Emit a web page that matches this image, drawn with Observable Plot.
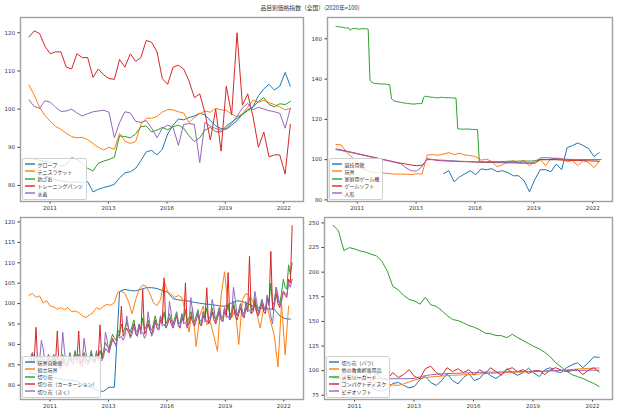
<!DOCTYPE html>
<html><head><meta charset="utf-8">
<script src="https://cdn.jsdelivr.net/npm/d3@7"></script>
<script src="https://cdn.jsdelivr.net/npm/@observablehq/plot@0.6"></script>
<style>
body{margin:0;background:#fff;}
#fig{position:relative;width:620px;height:413px;background:#fff;overflow:hidden;font-family:"Noto Sans CJK JP","DejaVu Sans",sans-serif}
.title{position:absolute;top:3px;left:0;width:620px;text-align:center;font-size:5.8px;color:#333}
.panel{position:absolute}
.legend{position:absolute;background:rgba(255,255,255,0.8);border:0.8px solid #d0d0d0;border-radius:2px;padding:1.5px 3px 1.5px 2px;font-size:5px;line-height:7.3px;color:#333}
.legend .item{display:flex;align-items:center;white-space:nowrap;height:7.3px}
.legend svg{margin-right:3px;flex:none}
</style></head><body><div id="fig"><div class="title">品目別価格指数（全国）(2020年=100)</div></div>
<script>
// ---------- tick labels / scales ----------
const tickDays = [15000, 16000, 17000, 18000, 19000];   // x tick positions (days since 1970)
const tickLabels = ["2011", "2013", "2016", "2019", "2022"];
const yTicksTL = [80, 90, 100, 110, 120];
const yTicksTR = [80, 100, 120, 140, 160];
const yTicksBL = [80, 85, 90, 95, 100, 105, 110, 115, 120];
const yTicksBR = [75, 100, 125, 150, 175, 200, 225, 250];
const tab10 = ["#1f77b4", "#ff7f0e", "#2ca02c", "#d62728", "#9467bd"];

// ---------- series names ----------
const namesTL = ["グローブ", "テニスラケット", "釣ざお", "トレーニングパンツ", "水着"];
const namesTR = ["競技用靴", "玩具", "家庭用ゲーム機", "ゲームソフト", "人形"];
const namesBL = ["玩具自動車", "組立玩具", "切り花", "切り花（カーネーション）", "切り花（きく）"];
const namesBR = ["切り花（バラ）", "他の教養娯楽用品", "メモリーカード", "コンパクトディスク", "ビデオソフト"];

// ---------- values (first month = 2010-01; step in months given with each) ----------
// Top-left, every 3 months from 2010-01
const glove = [84,83.5,83,82.5,82,81.5,81.2,81,80.8,81,80.7,81,78.3,79,79.5,79.8,80.3,82,83.3,83.6,84.5,86.5,88.8,89.2,88,89.5,93.5,95.8,97.4,97.2,97.8,98.2,98.9,98.5,97,95.6,94.9,94.7,95.8,97,98.6,99.8,100.6,103.5,105.3,106.5,105,106,109.6,106];
const tennisRacket = [106.3,103.7,100.5,98.3,96.8,95.5,94.7,93.7,92.8,92.5,92.6,92,91,90,89.3,90,89.5,93.6,91.6,91,91.5,96,97.6,97.6,98.1,99.2,99.9,99.8,99.3,99,96.5,97.8,98.8,99.5,99.2,100.2,99.8,99.7,98.7,98,98.8,100.5,102.4,101.8,102.3,101.7,101.2,100.6,99.8,100.2];
const fishingRod = [87.1,87,86.6,86.3,86,85.8,85,85.5,87.3,86.8,85.8,84.5,83.8,85.8,86.4,86.8,87.4,93,92.8,92.5,93.5,95.4,95.6,94,94.5,95.2,94.6,95.4,95.8,95,93,91.5,92.5,94.5,95.2,94.1,94,95.6,96.6,97.6,98.6,99.6,100.5,102,103,101.2,100.6,101.4,101.2,102];
const trainingPants = [118.9,120.5,119.8,116.5,114.5,115,115,111,110.5,114.5,113.5,113.5,108.3,110.5,109,108,107.8,113,111,114.5,112.5,113.5,118,117.5,115,108,106.5,111,111.5,110.5,107.4,103,104,99,91.9,100,89,106,98.5,120,101,104,98,90,94,87.5,88,88,83,96];
const swimsuit = [102.4,100.7,100.2,102.2,101.8,100.5,99.4,99.5,100,99,98.2,98.8,99.3,99.5,99.7,99.2,92.5,96.5,99.3,99,96.8,96.5,97,95,92.5,95,95.8,95.2,90.5,96,96.2,96,86,96.5,95.5,94.9,94.5,95,96.3,98.2,100.3,101.5,99.8,100.5,100,99.6,99.3,98.9,95,100.2];

// Top-right
const sportsShoes = [93,94.5,89,91.4,93,94.5,92.5,95.4,95,95.5,94,94.5,93.5,92,92,89.5,84,90,95,95,94,97.8,95,106,107,108.3,107,105.5,101.5,103.5]; // every 3 months from 2015-01
const toys = [107.5,107.3,103.6,101.2,97.8,95.4,94.2,93.8,93.5,93.3,93,92.8,92.8,92.8,92.6,93,92.8,102.3,102.5,102.2,102.8,103.5,102.5,103.2,102.3,102,101.5,99.7,100.3,99,96.5,97.5,98.8,99.5,98.5,99.8,96.8,99.5,100.2,97,100.5,100.8,100.5,99,99.5,97,99.5,98.5,96,99];
const gameConsole = [ // monthly from 2010-01
166.2,166,166,165.8,165.7,165.5,165.3,165.5,164.2,165.2,165,165.2,165,164.8,165,165,165,165,164.8,
139.3,138.5,138,137.8,137.8,137.6,137.6,137.6,137.5,137.5,137.3,137.2,
130.2,129.4,129,128.8,128.6,128.5,128.3,128.2,128,127.9,127.8,127.7,127.6,127.6,127.8,127.8,127.8,127.9,
131,131.5,131.3,131.2,131,131,130.8,130.8,130.6,130.8,131,130.8,130.8,130.7,130.8,130.7,130.6,130.6,130.6,
115.3,115.2,115.2,115.1,115.2,115.2,115.2,115.1,115,115,115,115,
99,98.8,98.8,98.8,98.9,98.9,99,99,99,99,99,99,99.1,99.1,99.1,99.1,99.2,99.2,99.2,99.2,99.2,99.2,99.3,99.3,99.3,99.3,99.3,99.3,99.3,99.3,99.4,99.4,99.4,99.4,
100,100,100,100,100,100,100,100,100,100,100,100,100,100,100,100,100,100,100,100,100,100,100,100,100,100,100,100,100,100,100,100,100,100,100];
const gameSoftware = [105.3,104.8,104.2,103.6,103,102.4,101.8,101.2,100.6,100,99.4,98.8,98.3,97.8,97.3,97,97.2,100,100,99.6,99.4,99.3,99.2,99,99,98.9,98.8,98.7,98.6,98.6,98.5,98.5,98.4,98.4,98.3,98.3,98.2,98.2,100,100,100,100,99.8,99.7,99.6,99.6,99.5,99.4,99.3,99.2];
const dolls = [105,104.5,104,103.4,102.8,102.2,101.6,101,100.4,99.8,99.2,98.6,98,96,94.5,94.3,96.5,100.5,100,99.8,99.7,99.5,99.4,99.2,99.1,99,98.9,98.9,98.8,98.8,98.7,98.7,98.6,98.6,98.5,98.4,98.4,98.4,100.8,101,100.8,100.5,100.3,100.2,100.1,100,100,100,100,100];

// Bottom-left
const toyCars = [83,82.8,82.5,82.3,82,81.8,81.5,81.3,81.2,81,80.3,79.8,79.3,78.6,78.5,79.5,79.5,103,103.5,103.2,103.1,103.5,103.9,103.9,103.7,103.2,102.8,101.2,100.9,100.8,100.6,100.3,100.1,99.9,99.8,99.6,99.4,99.4,100.2,100.7,100.5,100,99.4,99,98.8,98.7,98.6,97,96.3,96.2];
const buildingToys = [102,102.5,101.5,101.9,100.2,100.7,99.4,99.2,98.6,99,98.5,99,98,98.2,97.8,97,96.6,97.2,97.8,99,98.6,99.4,99.8,99.6,100.2,102.8,103,102.5,100.5,97.5,101,103.5,104.6,104.2,102.5,100.2,99.5,101,105.5,103,102.2,101.5,102,101.5,98,93,99,89.5,97,99.4,94.8,95.5,92,88.3,102,107.8,99,96.5,98.5,90,101,102.5,101.9,100.5,97.8,94,99.2,99,95.5,92,84.5,100,87.5,99.4]; // every 2 months
const cutFlowers = [
86.5,86.8,88,86.5,87.2,85.5,85.8,87,86,85.5,85.8,87.5,
86,86.3,87.5,86,87,85.2,85.5,87.5,86,85.3,85.8,88,
86.2,86.5,88.5,86.3,87.5,85.5,85.8,88,86.5,85.8,86.3,88.5,
86.5,86,88,86.5,88.5,87,88.5,90.5,89.5,89,91,92.5,
91.5,91,93.5,92.5,95,93,94,95.5,94,93,94.5,96,
93.5,93,95,93.5,96.5,93.5,94.5,96,94,93.5,95,97,
95,94.5,97,95.5,98,95,96,97.5,96,95,96.5,98,
95.5,95,97.5,96,98.5,95.5,96.5,98,96.5,95.5,97,98.5,
96,95.5,98,96.5,99,96,97,99,97,96,97.5,99,
97,96.5,99,97.5,100,97,98,100.5,98,97,98.5,100,
98,97.5,100,98.5,101.5,98.5,99,101.5,99,98,99.5,101,
99,98.5,102,100,105,99.5,100.5,104,101,100,102.5,106,
104,103.5,109.5,107,110];
const carnation = [
85.5,86,87.5,86,94.2,85,84.5,86,85.5,84.8,85,86.5,
85,85.5,87,85.5,93.3,84.5,84,86.5,85,84.5,85,87,
85.5,86,87.5,86,93.3,85,84.5,87,85.5,85,85.5,87.5,
86,85.5,87,86.5,94.8,86.5,87.5,89,88.5,88,90,91.5,
90.5,90,92.5,92,99.4,92,93,94,93,92,93.5,95,
92.5,92,94.5,93,103.5,92.5,93.5,95,93.5,92.5,94,96,
94,93.5,96,95,106.3,94,95,96.5,95,94,95.5,97,
94.5,94,96.5,95.5,105.1,94.5,95,97,95.5,94.5,96,97.5,
95,94.5,97,96,103.9,95,96,98,96,95,96.5,98,
96,95.5,98,97,107.6,96,97,99.5,97,96,97.5,99,
97,96.5,99,98,111.6,97.5,98,100.5,98,97,98.5,100,
98,97.5,101,99.5,112.8,98.5,99.5,102.5,100,99,101,103,
102,101.5,106,105,119.1];
const chrysanthemum = [
86,85.5,88,85.5,86,85,86,91,89,85.5,85.5,87.5,
86,85,87.5,85,85.5,84.5,85.5,93,88.5,85,85,87,
85.5,85,88,85.5,86,85,86,91.5,88,85.5,86,88,
86,85.5,88.5,86,86.5,86,87,93,91,88,89.5,91,
90.5,89.5,92.5,91.5,92,91,92,97,94,91.5,92.5,94.5,
93,92,95,92.5,93,91.5,92.5,98,95,92,93,95.5,
94,93.5,97,94.5,95,94,95,100.5,97.5,94,95.5,97.5,
95,94,97.5,95,95.5,94,95.5,101.5,98,94.5,96,98,
95.5,94.5,98,95.5,96,95,96,101,99,95.5,96.5,99,
96.5,95.5,99,96.5,97,96,97.5,104,101,97,98,100,
98,96.5,100.5,98,98.5,97.5,99,103,100.5,97.5,99,101,
99,98,102,99.5,97,95,100.5,104,102,99.5,100.5,103,
102.5,102,105,104,106];

// Bottom-right, every 3 months from 2010-01
const roses = [88,86,90,85,84,88,86,83.5,80,79,81.5,87,88,85,82.5,84,91,94,88,85,90,97,90,86.5,93,97,90,92,99,95,92,96,102,98,95.3,98,102.5,97.5,94,101,103,99,98,103,106,108,103,108,114,113.5];
const otherRecreation = [92,92,91.5,91.5,91,91,90.5,90,88.5,87.5,86.5,85.5,85,86.5,88.5,90.5,92,93,93.6,94,94.5,95,95.3,95.5,95.8,96,96.3,96.6,97,97.2,97.5,97.8,98,98.2,98.5,98.7,98.8,99,99.2,99.3,99.6,100,100.3,100.8,101.2,101.6,102,102.3,102.5,102.7];
const memoryCard = [247.5,242,222,224.9,223.5,221.5,220.3,218.2,216.5,211,201,185.5,182,176.5,172.3,170.8,167.5,174.5,166.8,165.2,161,156,152,150.8,148.5,145.8,144.1,141.5,138,137.5,135.7,135.5,133.5,137,133.5,130.5,127.5,124.5,122,118.5,114,108,103.7,99.5,95.8,94,92,89.5,87,83.8];
const compactDisc = [96,92,97,92,97,92,96,91,97,92,91,98,93,96,101,94,92,102,104.5,98,95,103,99,102,98,101,95.5,101,97,103,99,95.5,101,103,99,101,97,100,100,96,101,103,100.5,99,100,101,96,100.5,103,98.5];
const videoSoftware = [92.5,92.4,92.3,92.2,92.1,92,92,91.9,91.9,91.8,91.8,91.8,91.8,91.8,91.9,92.2,93.5,95,95.8,96.3,96.7,97,97.2,97.4,97.6,97.8,98,98.2,98.4,98.5,98.6,98.7,98.8,98.9,99,99.1,99.2,99.3,99.4,99.6,100,100.2,100.3,100.3,100.2,100.2,100.3,100.4,100.4,100.5];

// ---------- helpers ----------
const monthEnd = m => new Date(Date.UTC(2010, m + 1, 0));
const series = (name, values, step, start = 0) => values.map((v, i) => ({name, date: monthEnd(start + i * step), value: v}));
const dayDate = d => new Date(d * 864e5);

const panels = [
  {names: namesTL, box: [20, 17, 303, 201], y: [75.8, 124], yt: yTicksTL,
   data: [series(namesTL[0], glove, 3), series(namesTL[1], tennisRacket, 3), series(namesTL[2], fishingRod, 3), series(namesTL[3], trainingPants, 3), series(namesTL[4], swimsuit, 3)]},
  {names: namesTR, box: [327, 17, 612, 201], y: [79.2, 170.6], yt: yTicksTR,
   data: [series(namesTR[0], sportsShoes, 3, 60), series(namesTR[1], toys, 3), series(namesTR[2], gameConsole, 1), series(namesTR[3], gameSoftware, 3), series(namesTR[4], dolls, 3)]},
  {names: namesBL, box: [20, 217, 303, 399], y: [76.5, 121.1], yt: yTicksBL,
   data: [series(namesBL[0], toyCars, 3), series(namesBL[1], buildingToys, 2), series(namesBL[2], cutFlowers, 1), series(namesBL[3], carnation, 1), series(namesBL[4], chrysanthemum, 1)]},
  {names: namesBR, box: [324, 217, 612, 399], y: [70.7, 255.5], yt: yTicksBR,
   data: [series(namesBR[0], roses, 3), series(namesBR[1], otherRecreation, 3), series(namesBR[2], memoryCard, 3), series(namesBR[3], compactDisc, 3), series(namesBR[4], videoSoftware, 3)]}
];

const fig = document.getElementById("fig");
const mL = 20, mR = 3, mT = 3, mB = 14;
const xDomain = [dayDate(14495), dayDate(19337)];

for (const p of panels) {
  const [x0, y0, x1, y1] = p.box;
  const rows = p.data.flat();
  const chart = Plot.plot({
    width: (x1 - x0) + mL + mR,
    height: (y1 - y0) + mT + mB,
    marginLeft: mL, marginRight: mR, marginTop: mT, marginBottom: mB,
    style: {fontSize: "5.5px", fontFamily: "DejaVu Sans", color: "#333", background: "transparent"},
    x: {type: "utc", domain: xDomain, ticks: tickDays.map(dayDate), tickFormat: d => tickLabels[tickDays.indexOf(Math.round(+d / 864e5))], tickSize: 2.5, tickPadding: 2.5, label: null},
    y: {domain: p.y, ticks: p.yt, tickSize: 2.5, tickPadding: 3, label: null},
    color: {domain: p.names, range: tab10},
    marks: [
      Plot.line(rows, {x: "date", y: "value", z: "name", stroke: "name", strokeWidth: 1}),
      Plot.frame({stroke: "#a0a0a0", strokeWidth: 1.4})
    ]
  });
  chart.classList.add("panel");
  chart.style.left = (x0 - mL) + "px";
  chart.style.top = (y0 - mT) + "px";
  fig.appendChild(chart);

  const lg = document.createElement("div");
  lg.className = "legend";
  lg.style.left = (x0 + 1.5) + "px";
  lg.style.bottom = (413 - y1 + 1.5) + "px";
  p.names.forEach((n, i) => {
    const it = document.createElement("div");
    it.className = "item";
    it.innerHTML = `<svg width="10" height="4"><line x1="0" x2="10" y1="2" y2="2" stroke="${tab10[i]}" stroke-width="1.4"/></svg><span>${n}</span>`;
    lg.appendChild(it);
  });
  fig.appendChild(lg);
}
</script></body></html>
